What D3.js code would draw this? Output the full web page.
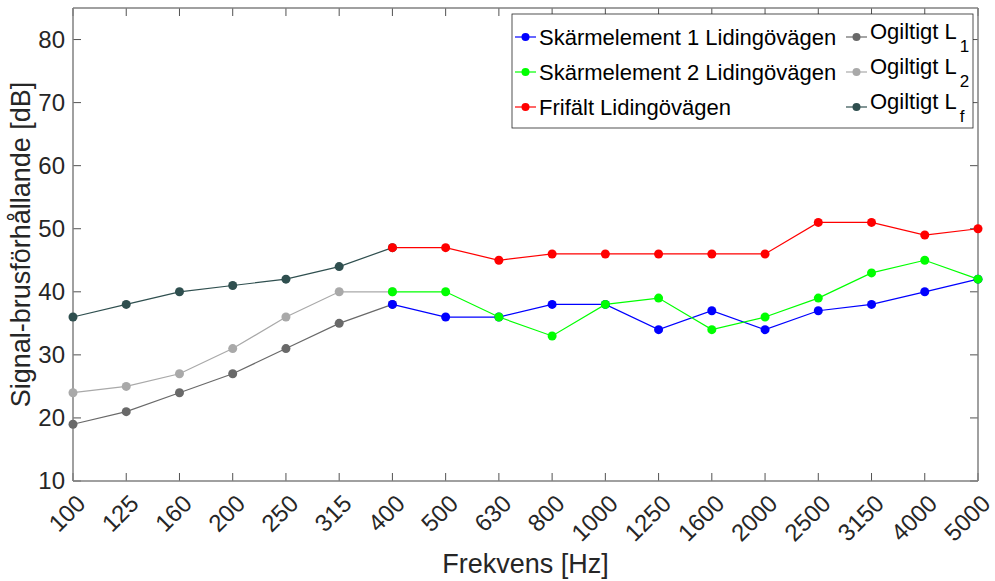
<!DOCTYPE html>
<html><head><meta charset="utf-8">
<script src="https://cdn.jsdelivr.net/npm/d3@7"></script>
<style>body{margin:0;background:#fff}svg{display:block}text{font-family:"Liberation Sans",Arial,Helvetica,sans-serif}</style>
</head><body><svg id="c" width="995" height="581"></svg>
<script>
const freqs = ["100","125","160","200","250","315","400","500","630","800","1000","1250","1600","2000","2500","3150","4000","5000"];
const lowFreqs = ["100","125","160","200","250","315","400"];
const highFreqs = ["400","500","630","800","1000","1250","1600","2000","2500","3150","4000","5000"];
const ogiltigL1 = [19,21,24,27,31,35,38];
const ogiltigL2 = [24,25,27,31,36,40,40];
const ogiltigLf = [36,38,40,41,42,44,47];
const skarm1 = [38,36,36,38,38,34,37,34,37,38,40,42];
const skarm2 = [40,40,36,33,38,39,34,36,39,43,45,42];
const frifalt = [47,47,45,46,46,46,46,46,51,51,49,50];
const yTicks = [10,20,30,40,50,60,70,80];

const series = [
  {name:"Ogiltigt L", sub:"1", x:lowFreqs, y:ogiltigL1, color:"#696969", col:1, row:0},
  {name:"Ogiltigt L", sub:"2", x:lowFreqs, y:ogiltigL2, color:"#a9a9a9", col:1, row:1},
  {name:"Ogiltigt L", sub:"f", x:lowFreqs, y:ogiltigLf, color:"#2f4f4f", col:1, row:2},
  {name:"Skärmelement 1 Lidingövägen", x:highFreqs, y:skarm1, color:"#0000ff", col:0, row:0},
  {name:"Skärmelement 2 Lidingövägen", x:highFreqs, y:skarm2, color:"#00ff00", col:0, row:1},
  {name:"Frifält Lidingövägen", x:highFreqs, y:frifalt, color:"#ff0000", col:0, row:2}
];

const svg = d3.select("#c");
const L=73, R=978, T=8, B=481;
const x = d3.scalePoint().domain(freqs).range([L,R]);
const y = d3.scaleLinear().domain([10,85]).range([B,T]);
const axisCol="#808080", textCol="#262626";

const tl=8;
const g=svg.append("g").attr("stroke",textCol).attr("stroke-width",0.8);
freqs.forEach(f=>{
  g.append("line").attr("x1",x(f)).attr("x2",x(f)).attr("y1",B).attr("y2",B-tl);
  g.append("line").attr("x1",x(f)).attr("x2",x(f)).attr("y1",T).attr("y2",T+tl);
});
yTicks.forEach(v=>{
  g.append("line").attr("x1",L).attr("x2",L+tl).attr("y1",y(v)).attr("y2",y(v));
  g.append("line").attr("x1",R).attr("x2",R-tl).attr("y1",y(v)).attr("y2",y(v));
});
[[L,T,L,B],[L,B,R,B],[R,T,R,B],[L,T,R,T]].forEach(a=>{
  svg.append("line").attr("x1",a[0]).attr("y1",a[1]).attr("x2",a[2]).attr("y2",a[3])
    .attr("stroke",axisCol).attr("stroke-width",1.5);
});

yTicks.forEach(v=>{
  svg.append("text").attr("x",L-8).attr("y",y(v)).attr("dy","0.35em").attr("text-anchor","end")
    .attr("font-size",24).attr("fill",textCol).text(v);
});
freqs.forEach(f=>{
  svg.append("text").attr("transform",`translate(${x(f)+14},${B+24}) rotate(-45)`)
    .attr("text-anchor","end").attr("font-size",24).attr("fill",textCol).text(f);
});
svg.append("text").attr("x",(L+R)/2).attr("y",573).attr("text-anchor","middle")
  .attr("font-size",27).attr("fill",textCol).text("Frekvens [Hz]");
svg.append("text").attr("transform",`translate(30,${(T+B)/2}) rotate(-90)`).attr("text-anchor","middle")
  .attr("font-size",27).attr("fill",textCol).text("Signal-brusförhållande [dB]");

const line=d3.line().x(d=>x(d[0])).y(d=>y(d[1]));
series.forEach(s=>{
  const pts=s.x.map((f,i)=>[f,s.y[i]]);
  svg.append("path").attr("d",line(pts)).attr("fill","none").attr("stroke",s.color).attr("stroke-width",1.2);
  svg.selectAll(null).data(pts).enter().append("circle").attr("cx",d=>x(d[0])).attr("cy",d=>y(d[1]))
    .attr("r",4.5).attr("fill",s.color);
});

const lg=svg.append("g");
lg.append("rect").attr("x",512).attr("y",14).attr("width",461).attr("height",114)
  .attr("fill","#fff").attr("stroke",textCol).attr("stroke-width",0.8);
const colX=[515,846], rowY=[37,72,107];
series.forEach(s=>{
  const cx=colX[s.col], cy=rowY[s.row];
  lg.append("line").attr("x1",cx).attr("x2",cx+21).attr("y1",cy).attr("y2",cy).attr("stroke",s.color).attr("stroke-width",1.2);
  lg.append("circle").attr("cx",cx+10.5).attr("cy",cy).attr("r",4).attr("fill",s.color);
  const t=lg.append("text").attr("x",cx+24).attr("font-size",22).attr("fill","#000");
  if(s.sub){
    t.attr("y",cy+2);
    t.append("tspan").text(s.name);
    t.append("tspan").attr("dy",13).attr("dx",3).attr("font-size",17).text(s.sub);
  } else t.attr("y",cy).attr("dy","0.35em").text(s.name);
});
</script></body></html>
